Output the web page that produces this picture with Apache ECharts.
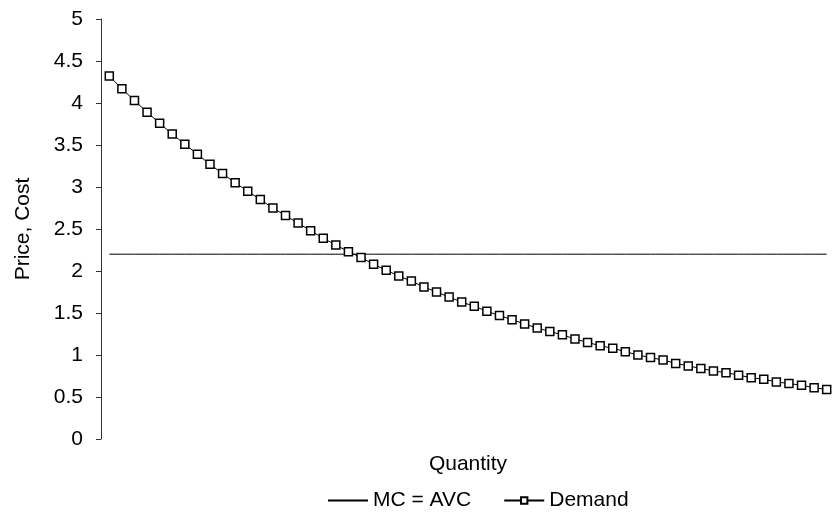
<!DOCTYPE html>
<html>
<head>
<meta charset="utf-8">
<script src="https://cdn.jsdelivr.net/npm/echarts@6/dist/echarts.min.js"></script>
<style>html,body{margin:0;padding:0;background:#fff}#c{width:833px;height:513px}</style>
</head>
<body>
<div id="c"></div>
<script>
var quantities = [];
for (var i = 1; i <= 58; i++) quantities.push(String(i));
var demand = [4.32,4.17,4.03,3.89,3.76,3.63,3.51,3.39,3.27,3.16,3.05,2.95,2.85,2.75,2.66,2.57,2.48,2.39,2.31,2.23,2.16,2.08,2.01,1.94,1.88,1.81,1.75,1.69,1.63,1.58,1.52,1.47,1.42,1.37,1.32,1.28,1.24,1.19,1.15,1.11,1.08,1.04,1.00,0.97,0.94,0.90,0.87,0.84,0.81,0.79,0.76,0.73,0.71,0.68,0.66,0.64,0.61,0.59];
var mcAvc = [2.2,2.2,2.2,2.2,2.2,2.2,2.2,2.2,2.2,2.2,2.2,2.2,2.2,2.2,2.2,2.2,2.2,2.2,2.2,2.2,2.2,2.2,2.2,2.2,2.2,2.2,2.2,2.2,2.2,2.2,2.2,2.2,2.2,2.2,2.2,2.2,2.2,2.2,2.2,2.2,2.2,2.2,2.2,2.2,2.2,2.2,2.2,2.2,2.2,2.2,2.2,2.2,2.2,2.2,2.2,2.2,2.2,2.2];
var yTicks = ['0','0.5','1','1.5','2','2.5','3','3.5','4','4.5','5'];

var font = 'Arial, "Liberation Sans", sans-serif';
var chart = echarts.init(document.getElementById('c'), null, {renderer: 'canvas'});
chart.setOption({
  backgroundColor: '#fff',
  animation: false,
  textStyle: {fontFamily: font, color: '#000'},
  grid: {left: 103, right: -2, top: 19, bottom: 74, containLabel: false},
  legend: {
    left: 322, top: 485,
    itemWidth: 40, itemHeight: 8, itemGap: 32,
    textStyle: {fontFamily: font, fontSize: 21, color: '#000'},
    data: [
      {name: 'MC = AVC', itemStyle: {opacity: 0}},
      {name: 'Demand'}
    ]
  },
  xAxis: {
    type: 'category',
    data: quantities,
    boundaryGap: true,
    name: 'Quantity',
    nameLocation: 'middle',
    nameGap: 15,
    nameTextStyle: {fontFamily: font, fontSize: 21, color: '#000', verticalAlign: 'top'},
    axisLine: {show: false},
    axisTick: {show: false},
    axisLabel: {show: false},
    splitLine: {show: false}
  },
  yAxis: {
    type: 'value',
    min: 0, max: 5, interval: 0.5,
    offset: 2,
    name: 'Price, Cost',
    nameLocation: 'middle',
    nameGap: 67,
    nameRotate: 90,
    nameTextStyle: {fontFamily: font, fontSize: 21, color: '#000'},
    axisLine: {show: true, lineStyle: {color: '#333', width: 1}},
    axisTick: {show: true, length: 5, lineStyle: {color: '#333'}},
    axisLabel: {
      fontFamily: font, fontSize: 21, color: '#000', margin: 18,
      formatter: function (v) { var s = String(Math.round(v * 10) / 10); return yTicks.indexOf(s) >= 0 ? s : ''; }
    },
    splitLine: {show: false}
  },
  series: [
    {
      name: 'MC = AVC', type: 'line', data: mcAvc,
      symbol: 'none',
      lineStyle: {color: '#000', width: 1},
      itemStyle: {color: '#000'}
    },
    {
      name: 'Demand', type: 'line', data: demand,
      symbol: 'rect', symbolSize: 8,
      lineStyle: {color: '#000', width: 1},
      itemStyle: {color: '#fff', borderColor: '#000', borderWidth: 1.5}
    }
  ]
});
</script>
</body>
</html>
